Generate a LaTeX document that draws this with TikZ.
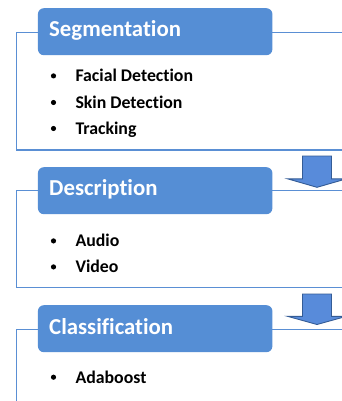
\documentclass[tikz,border=0pt]{standalone}
\usepackage{fontspec}
\setmainfont[Ligatures={NoCommon,NoRequired,NoContextual}]{Carlito}
\definecolor{hdrblue}{RGB}{85,142,213}
\definecolor{lineblue}{RGB}{90,143,212}
\definecolor{arrowfill}{RGB}{88,139,218}
\definecolor{arrowedge}{RGB}{52,92,150}
\tikzset{
  sectionbox/.style={draw=lineblue, line width=1.3pt},
  hdr/.style={fill=hdrblue, draw=none, rounded corners=6pt, minimum width=234.5pt, minimum height=47pt, inner sep=0pt, anchor=north west},
  title/.style={text=white, font=\bfseries\fontsize{22.8}{26}\selectfont, anchor=base west, inner sep=0pt},
  item/.style={text=black, font=\bfseries\fontsize{17.8}{20}\selectfont, anchor=base west, inner sep=0pt},
  blockarrow/.style={fill=arrowfill, draw=arrowedge, line width=0.9pt, line join=miter},
  bulletdot/.style={fill=black}
}
\begin{document}
\begin{tikzpicture}[x=1pt,y=-1pt]
\useasboundingbox (0,0) rectangle (341,401);
\fill[white] (0,0) rectangle (341,401);
% section outlines
\draw[sectionbox] (360,32.5) -- (16.7,32.5) -- (16.7,150) -- (360,150);
\draw[sectionbox] (360,190.8) -- (16.7,190.8) -- (16.7,287.3) -- (360,287.3);
\draw[sectionbox] (360,329.5) -- (16.7,329.5) -- (16.7,420);
% arrows
\draw[blockarrow] (302.5,156) -- (331.5,156) -- (331.5,178.8) -- (346.5,178.8) -- (317,187.3) -- (287.5,178.8) -- (302.5,178.8) -- cycle;
\draw[blockarrow] (302.5,294) -- (331.5,294) -- (331.5,316.3) -- (346.5,316.3) -- (317,324.5) -- (287.5,316.3) -- (302.5,316.3) -- cycle;
% headers
\node[hdr] (h1) at (37.7,8) {};
\node[title] (t1) at (49,36.8) {Segmentation};
\node[hdr] (h2) at (37.7,167) {};
\node[title] (t2) at (49,195.8) {Description};
\node[hdr] (h3) at (37.7,305) {};
\node[title] (t3) at (49,334) {Classification};
% items
\node[item] (i1) at (75.3,81.7) {Facial Detection};
\node[item] (i2) at (75.3,108.3) {Skin Detection};
\node[item] (i3) at (75.3,134.3) {Tracking};
\node[item] (i4) at (75.3,246.7) {Audio};
\node[item] (i5) at (75.3,272.7) {Video};
\node[item] (i6) at (75.3,383) {Adaboost};
\foreach \yy in {81.7,108.3,134.3,246.7,272.7,383}
  \fill[bulletdot] (53.5,\yy-5.8) circle (2.6pt);
\end{tikzpicture}
\end{document}
